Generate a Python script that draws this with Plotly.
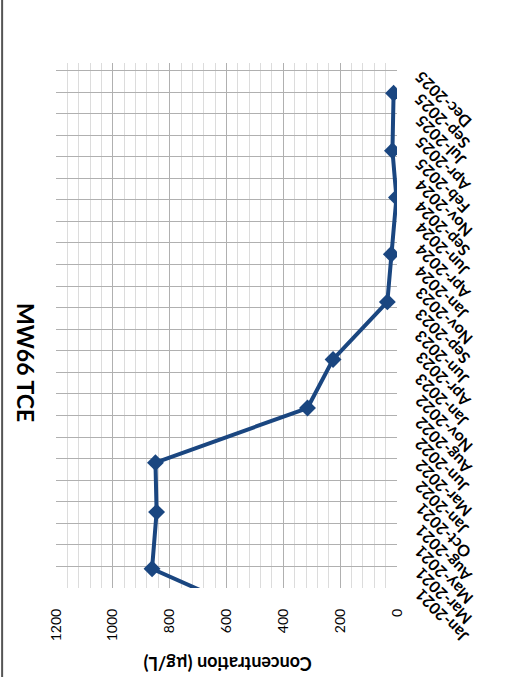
import plotly.graph_objects as go
from datetime import date, timedelta

# ---- data ----
sample_dates = ["2020-09-09", "2021-03-09", "2021-09-22", "2022-03-13", "2022-09-19",
                "2023-03-07", "2023-09-23", "2024-03-07", "2024-09-20", "2025-03-02",
                "2025-09-18"]
tce_values = [450, 862, 846, 850, 315, 225, 34, 20, 2, 16, 12]

tick_labels = ["Jan-2021", "Mar-2021", "May-2021", "Aug-2021", "Oct-2021", "Jan-2022",
               "Mar-2022", "Jun-2022", "Aug-2022", "Nov-2022", "Jan-2023", "Apr-2023",
               "Jun-2023", "Sep-2023", "Nov-2023", "Jan-2024", "Apr-2024", "Jun-2024",
               "Sep-2024", "Nov-2024", "Feb-2025", "Apr-2025", "Jul-2025", "Sep-2025",
               "Dec-2025"]
axis_start = "2021-01-01"
axis_end = "2026-01-01"
tick_step_days = 75
conc_ticks = [0, 200, 400, 600, 800, 1000, 1200]

FONT = "Lato"
LINE_COLOR = "#1a4680"

fig = go.Figure()
fig.add_trace(go.Scatter(
    x=tce_values, y=sample_dates, mode="lines+markers",
    line=dict(color=LINE_COLOR, width=4),
    marker=dict(symbol="diamond", size=13, color=LINE_COLOR),
    cliponaxis=True, showlegend=False,
))

fig.update_xaxes(
    range=[1200, 0], tickmode="array", tickvals=conc_ticks,
    ticktext=[str(v) for v in conc_ticks],
    tickangle=-90, tickfont=dict(family=FONT, size=14, color="#000"),
    ticks="", ticklabelstandoff=17,
    showgrid=True, gridcolor="#b0b0b0", gridwidth=1,
    minor=dict(dtick=40, tick0=0, showgrid=True, gridcolor="#dcdcdc", gridwidth=1),
    zeroline=False, showline=False,
)
fig.update_yaxes(
    type="date", range=[axis_start, axis_end], tick0=axis_start,
    dtick=tick_step_days * 86400000, showticklabels=False, ticks="",
    showgrid=True, gridcolor="#b0b0b0", gridwidth=1,
    zeroline=False, showline=False, side="right",
)

annotations = []
d0 = date.fromisoformat(axis_start)
for i, lab in enumerate(tick_labels):
    d = d0 + timedelta(days=tick_step_days * i)
    annotations.append(dict(
        x=1, xref="paper", y=d.isoformat(), yref="y", text="<b>" + lab + "</b>",
        textangle=-135, showarrow=False, xanchor="left", yanchor="top",
        xshift=11, yshift=5,
        font=dict(family=FONT, size=16, color="#000"),
    ))

annotations.append(dict(
    x=-0.09, xref="paper", y=0.43, yref="paper", text="<b>MW66 TCE</b>",
    textangle=90, showarrow=False, xanchor="center", yanchor="middle",
    font=dict(family=FONT, size=23, color="#000"),
))
annotations.append(dict(
    x=0.504, xref="paper", y=-0.1436, yref="paper", text="<b>Concentration (µg/L)</b>",
    textangle=180, showarrow=False, xanchor="center", yanchor="middle",
    font=dict(family=FONT, size=18, color="#000"),
))

fig.update_layout(
    width=508, height=677,
    margin=dict(l=56, r=110.7, t=63.3, b=89.3),
    paper_bgcolor="white", plot_bgcolor="white",
    annotations=annotations,
    shapes=[dict(type="line", xref="paper", yref="paper",
                 x0=-0.158, x1=-0.158, y0=-0.17, y1=1.12,
                 line=dict(color="#555555", width=2))],
)

fig.write_html("out.html",
               config={"displayModeBar": False},
               post_script="document.body.style.margin='0';document.body.style.overflow='hidden';")
